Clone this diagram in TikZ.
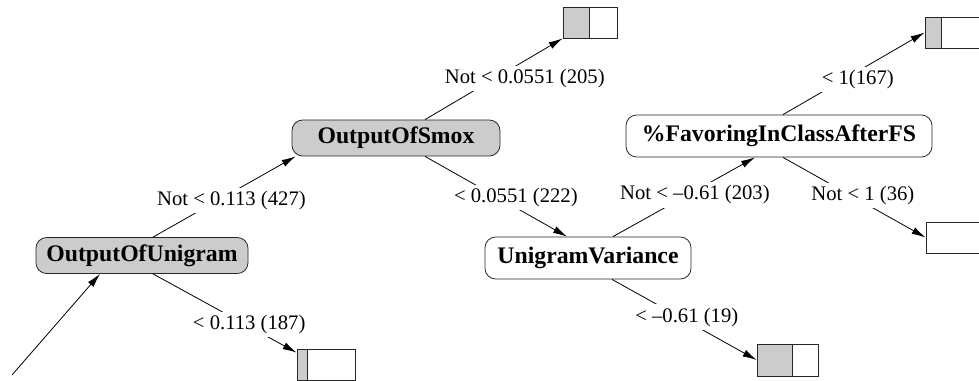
\documentclass[tikz,border=0pt]{standalone}
\usepackage{fontspec}
\setmainfont{Liberation Serif}
\usetikzlibrary{arrows.meta}

\definecolor{nodegray}{gray}{0.8}

\tikzset{
  attr/.style={draw=black!85, line width=0.6pt, rounded corners=8pt, inner xsep=6pt,
    font=\fontsize{17.8}{20}\selectfont\bfseries},
  attrgray/.style={attr, fill=nodegray},
  cond/.style={fill=white, inner sep=2.5pt, font=\fontsize{15.5}{17}\selectfont},
  leafbox/.style={draw=black!85, line width=0.6pt, inner sep=0pt, minimum width=43.5pt,
    minimum height=23.25pt},
  grayshare/.style={path picture={
    \fill[nodegray] (path picture bounding box.south west) rectangle ([xshift=#1]path picture bounding box.north west);
    \draw[black!85, line width=0.6pt] ([xshift=#1]path picture bounding box.south west) -- ([xshift=#1]path picture bounding box.north west);}}
}

\begin{document}
\begin{tikzpicture}[x=0.75pt, y=-0.75pt, >={Latex[length=10.5pt,width=5.5pt]}, line width=0.6pt]
    \useasboundingbox (0,0) rectangle (979,381);
    \clip (0,0) rectangle (979,381);

    % tests
    \node[attrgray, minimum width=159pt, minimum height=27pt] (unigram) at (142,255.5) {OutputOfUnigram};
    \node[attrgray, minimum width=156pt, minimum height=27pt] (smox) at (396,138) {OutputOfSmox};
    \node[attr, minimum width=154.5pt, minimum height=31.5pt] (uvar) at (588,258) {UnigramVariance};
    \node[attr, minimum width=229.5pt, minimum height=31.5pt] (favor) at (779,136) {\%FavoringInClassAfterFS};

    % leaves
    \node[leafbox, minimum width=40.5pt, grayshare=19.5pt] (leafa) at (590,22.5) {};
    \node[leafbox, grayshare=12pt] (leafb) at (954,32.5) {};
    \node[leafbox] (leafc) at (955,237.5) {};
    \node[leafbox, grayshare=7.5pt] (leafd) at (326,364.5) {};
    \node[leafbox, minimum width=45.75pt, minimum height=24pt, grayshare=26.25pt] (leafe) at (787.5,360) {};

    \coordinate (root) at (12,375);
    \draw[->] (root) -- ([shift={(-42,0)}]unigram.south);

    \draw[->] ([shift={(11,0)}]unigram.north) -- node[cond, pos=0.55, shift={(0,7.5)}] {Not < 0.113 (427)} ([shift={(4,0)}]smox.south west);
    \draw[->] ([shift={(11,0)}]unigram.south) -- node[cond, pos=0.67, shift={(0,-2)}] {< 0.113 (187)} ([shift={(0,4)}]leafd.north west);
    \draw[->] ([shift={(29,0)}]smox.north) -- node[cond, pos=0.725, shift={(0,18)}] {Not < 0.0551 (205)} (leafa.south west);
    \draw[->] ([shift={(29,0)}]smox.south) -- node[cond, pos=0.64, shift={(0,-10)}] {< 0.0551 (222)} ([shift={(-21,0)}]uvar.north);
    \draw[->] ([shift={(25,0)}]uvar.north) -- node[cond, pos=0.577, shift={(0,4)}] {Not < –0.61 (203)} ([shift={(-24,0)}]favor.south);
    \draw[->] ([shift={(24,0)}]uvar.south) -- node[cond, pos=0.517, shift={(0,-4)}] {< –0.61 (19)} (leafe.west);
    \draw[->] ([shift={(4,0)}]favor.north) -- node[cond, pos=0.528, shift={(0,8.5)}] {< 1(167)} (leafb.west);
    \draw[->] ([shift={(4,0)}]favor.south) -- node[cond, pos=0.56, shift={(0,-7)}] {Not < 1 (36)} (leafc.west);
\end{tikzpicture}
\end{document}
